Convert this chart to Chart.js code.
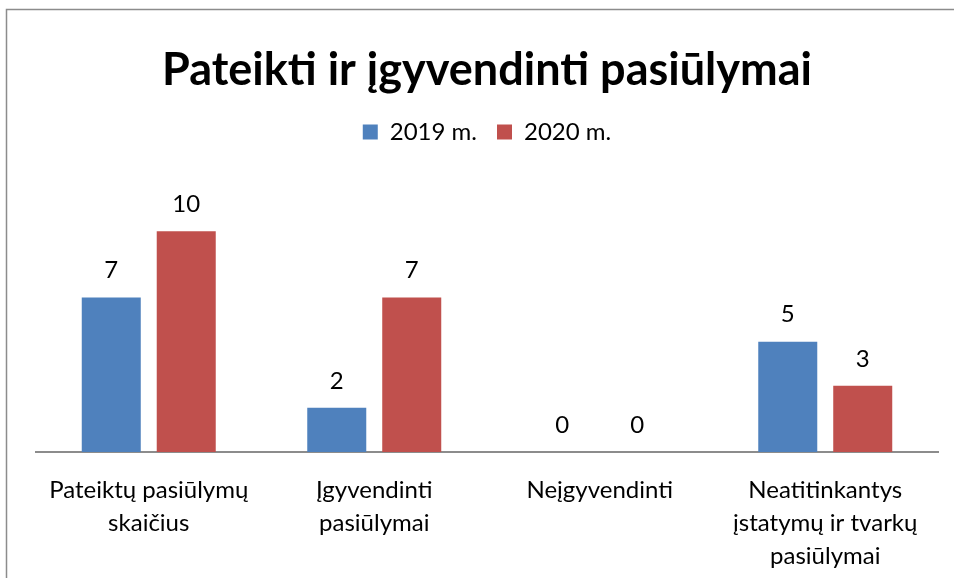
<!DOCTYPE html>
<html>
<head>
<meta charset="utf-8">
<script src="https://cdn.jsdelivr.net/npm/chart.js@4"></script>
<style>
  html, body { margin: 0; padding: 0; background: #fff; }
  #wrap { width: 954px; height: 578px; }
</style>
</head>
<body>
<div id="wrap"><canvas id="chart" width="954" height="578"></canvas></div>
<script>
const categories = [
    ['Pateiktų pasiūlymų', 'skaičius'],
    ['Įgyvendinti', 'pasiūlymai'],
    'Neįgyvendinti',
    ['Neatitinkantys', 'įstatymų ir tvarkų', 'pasiūlymai']
];
const series_names = ['2019 m.', '2020 m.'];
const values_2019 = [7, 2, 0, 5];
const values_2020 = [10, 7, 0, 3];

const FONT = 'Lato, "Open Sans", sans-serif';

// frame around the chart (top and left edges are visible)
const framePlugin = {
    id: 'frame',
    beforeDraw(chart) {
        const c = chart.ctx;
        c.save();
        c.fillStyle = '#fff';
        c.fillRect(0, 0, chart.width, chart.height);
        c.strokeStyle = '#8c8c8c';
        c.lineWidth = 1.5;
        c.strokeRect(6.5, 9.5, 960, 600);
        c.restore();
    }
};

// numbers above bars
const valueLabels = {
    id: 'valueLabels',
    afterDatasetsDraw(chart) {
        const c = chart.ctx;
        c.save();
        c.font = '24px ' + FONT;
        c.fillStyle = '#000';
        c.textAlign = 'center';
        c.textBaseline = 'middle';
        chart.data.datasets.forEach((ds, i) => {
            chart.getDatasetMeta(i).data.forEach((bar, j) => {
                c.fillText(ds.data[j], bar.x, bar.y - 27);
            });
        });
        c.restore();
    }
};

new Chart(document.getElementById('chart').getContext('2d'), {
    type: 'bar',
    data: {
        labels: categories,
        datasets: [{
            label: series_names[0],
            data: values_2019,
            backgroundColor: '#4F81BD',
            categoryPercentage: 0.665,
            barPercentage: 0.787
        }, {
            label: series_names[1],
            data: values_2020,
            backgroundColor: '#C0504D',
            categoryPercentage: 0.665,
            barPercentage: 0.787
        }]
    },
    options: {
        responsive: false,
        animation: false,
        layout: { padding: { top: 10, left: 36, right: 16, bottom: 0 } },
        plugins: {
            title: {
                display: true,
                text: 'Pateikti ir įgyvendinti pasiūlymai',
                color: '#000',
                font: { family: FONT, size: 45, weight: 'bold' },
                padding: { top: 33, bottom: 3 }
            },
            legend: {
                display: true,
                labels: {
                    color: '#000',
                    font: { family: FONT, size: 24 },
                    boxWidth: 15,
                    boxHeight: 15,
                    padding: 20
                }
            },
            tooltip: { enabled: false }
        },
        scales: {
            x: {
                grid: { display: false, drawTicks: false },
                border: { display: true, color: '#8c8c8c', width: 2 },
                ticks: {
                    color: '#000',
                    font: { family: FONT, size: 24, lineHeight: 1.375 },
                    padding: 22,
                    maxRotation: 0,
                    autoSkip: false
                },
                afterFit(scale) { scale.height = 126; }
            },
            y: {
                display: false,
                min: 0,
                max: 13.5 // headroom so 10 lands where it does in the picture
            }
        }
    },
    plugins: [framePlugin, valueLabels]
});
</script>
</body>
</html>
